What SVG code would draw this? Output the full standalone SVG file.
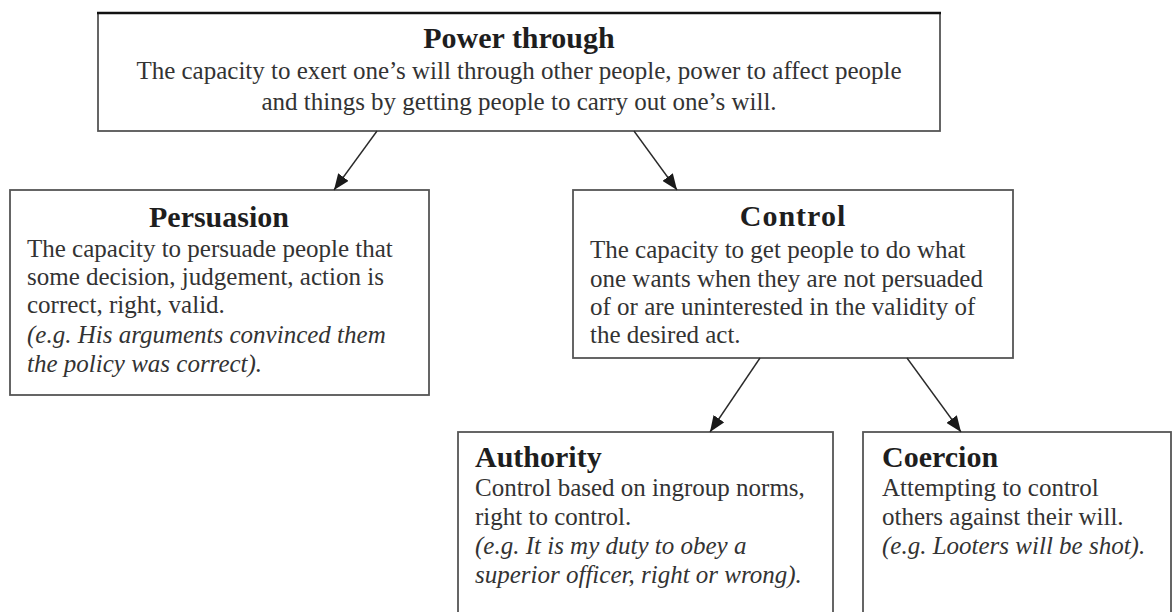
<svg xmlns="http://www.w3.org/2000/svg" width="1173" height="612" viewBox="0 0 1173 612">
  <defs>
    <marker id="arrow" markerUnits="userSpaceOnUse" markerWidth="17" markerHeight="13" refX="16" refY="6.5" orient="auto">
      <path d="M0,0 L16,6.5 L0,13 Z" fill="#1a1a1a"/>
    </marker>
    <style>
      .box { fill: #ffffff; stroke: #555555; stroke-width: 1.8; }
      .head { font-family: "Liberation Serif", "Times New Roman", serif; font-weight: bold; font-size: 30px; fill: #1e1e1e; }
      .body { font-family: "Liberation Serif", "Times New Roman", serif; font-size: 25px; fill: #333333; }
      .it { font-style: italic; }
      .conn { stroke: #2a2a2a; stroke-width: 1.4; fill: none; marker-end: url(#arrow); }
    </style>
  </defs>
  <rect x="0" y="0" width="1173" height="612" fill="#ffffff"/>

  <g id="power-through">
    <rect class="box" x="98" y="13" width="842" height="118"/>
    <line x1="97" y1="13" x2="941" y2="13" stroke="#111111" stroke-width="2.6"/>
    <text class="head" x="519" y="48" text-anchor="middle">Power through</text>
    <text class="body" x="519" y="79" text-anchor="middle">The capacity to exert one’s will through other people, power to affect people</text>
    <text class="body" x="519" y="110" text-anchor="middle">and things by getting people to carry out one’s will.</text>
  </g>

  <g id="persuasion">
    <rect class="box" x="10" y="190" width="419" height="205"/>
    <text class="head" x="219" y="227" text-anchor="middle">Persuasion</text>
    <text class="body" x="27" y="257">The capacity to persuade people that</text>
    <text class="body" x="27" y="285">some decision, judgement, action is</text>
    <text class="body" x="27" y="313">correct, right, valid.</text>
    <text class="body it" x="27" y="343">(e.g. His arguments convinced them</text>
    <text class="body it" x="27" y="372">the policy was correct).</text>
  </g>

  <g id="control">
    <rect class="box" x="573" y="190" width="440" height="168"/>
    <text class="head" x="793" y="226" text-anchor="middle" letter-spacing="1">Control</text>
    <text class="body" x="590" y="258">The capacity to get people to do what</text>
    <text class="body" x="590" y="287">one wants when they are not persuaded</text>
    <text class="body" x="590" y="315">of or are uninterested in the validity of</text>
    <text class="body" x="590" y="343">the desired act.</text>
  </g>

  <g id="authority">
    <rect class="box" x="458" y="432" width="375" height="220"/>
    <text class="head" x="475" y="467">Authority</text>
    <text class="body" x="475" y="496">Control based on ingroup norms,</text>
    <text class="body" x="475" y="525">right to control.</text>
    <text class="body it" x="475" y="554">(e.g. It is my duty to obey a</text>
    <text class="body it" x="475" y="583">superior officer, right or wrong).</text>
  </g>

  <g id="coercion">
    <rect class="box" x="863" y="432" width="308" height="220"/>
    <text class="head" x="882" y="467">Coercion</text>
    <text class="body" x="882" y="496">Attempting to control</text>
    <text class="body" x="882" y="525">others against their will.</text>
    <text class="body it" x="882" y="554">(e.g. Looters will be shot).</text>
  </g>

  <g id="connectors">
    <line class="conn" x1="377" y1="131" x2="334" y2="190"/>
    <line class="conn" x1="634" y1="131" x2="677" y2="190"/>
    <line class="conn" x1="760" y1="358" x2="710" y2="432"/>
    <line class="conn" x1="907" y1="358" x2="961" y2="432"/>
  </g>
</svg>
